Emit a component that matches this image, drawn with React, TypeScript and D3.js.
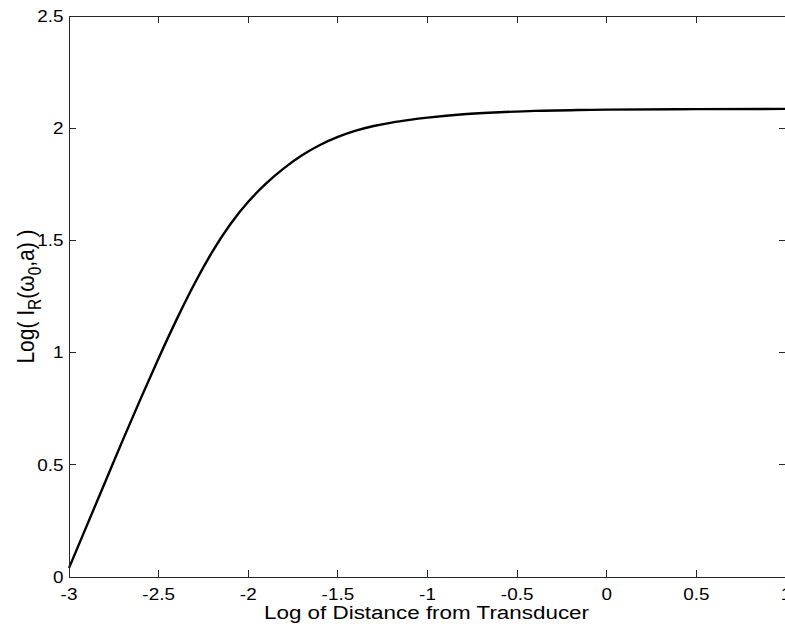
import React from "react";
import * as d3 from "d3";

const xValues = [-3, -2.9, -2.8, -2.7, -2.6, -2.5, -2.4, -2.3, -2.2, -2.1, -2.0, -1.9, -1.8, -1.7, -1.6, -1.5, -1.4, -1.3, -1.2, -1.1, -1.0, -0.8, -0.6, -0.4, -0.2, 0, 0.5, 1];
const yValues = [0.04, 0.23, 0.42, 0.61, 0.795, 0.975, 1.147, 1.307, 1.45, 1.572, 1.672, 1.754, 1.822, 1.879, 1.925, 1.961, 1.989, 2.01, 2.025, 2.037, 2.047, 2.062, 2.071, 2.077, 2.08, 2.083, 2.085, 2.086];
const xTicks = [-3, -2.5, -2, -1.5, -1, -0.5, 0, 0.5, 1];
const yTicks = [0, 0.5, 1, 1.5, 2, 2.5];
const xLabel = "Log of Distance from Transducer";

const W = 785;
const H = 630;
const L = 69;
const R = 786;
const T = 16;
const B = 577;
const FONT = "Arial, 'Liberation Sans', Helvetica, sans-serif";
const AX = "#262626";
const SX = 1.18;

export default function App() {
  const x = d3.scaleLinear().domain([-3, 1]).range([L, R]);
  const y = d3.scaleLinear().domain([0, 2.5]).range([B, T]);
  const pts = xValues.map((v, i) => [v, yValues[i]] as [number, number]);
  const line = d3
    .line<[number, number]>()
    .x((d) => x(d[0]))
    .y((d) => y(d[1]))
    .curve(d3.curveNatural);
  const tl = 7;
  const fmt = (v: number) => String(v);
  return (
    <svg
      width={W}
      height={H}
      style={{ position: "absolute", left: 0, top: 0, background: "#fff" }}
      fontFamily={FONT}
    >
      <rect x={0} y={0} width={W} height={H} fill="#fff" />
      <path d={line(pts) || ""} fill="none" stroke="#000" strokeWidth={2.4} />
      <rect x={L} y={T} width={R - L} height={B - T} fill="none" stroke={AX} strokeWidth={1} shapeRendering="crispEdges" />
      {xTicks.map((t) => (
        <g key={"x" + t}>
          <line x1={x(t)} x2={x(t)} y1={B} y2={B - tl} stroke={AX} shapeRendering="crispEdges" />
          <line x1={x(t)} x2={x(t)} y1={T} y2={T + tl} stroke={AX} shapeRendering="crispEdges" />
          <text transform={`translate(${x(t)},599.5) scale(${SX},1)`} fontSize={16} textAnchor="middle" fill="#000">
            {fmt(t)}
          </text>
        </g>
      ))}
      {yTicks.map((t) => (
        <g key={"y" + t}>
          <line x1={L} x2={L + tl} y1={y(t)} y2={y(t)} stroke={AX} shapeRendering="crispEdges" />
          <line x1={R} x2={R - tl} y1={y(t)} y2={y(t)} stroke={AX} shapeRendering="crispEdges" />
          <text transform={`translate(63.5,${y(t) + 5.8}) scale(${SX},1)`} fontSize={16} textAnchor="end" fill="#000">
            {fmt(t)}
          </text>
        </g>
      ))}
      <text transform={`translate(${(L + R) / 2 - 1},619.3) scale(${SX},1)`} fontSize={19} textAnchor="middle" fill="#000">
        {xLabel}
      </text>
      <text
        transform={`translate(34,${(T + B) / 2}) scale(${SX},1) rotate(-90)`}
        fontSize={21}
        textAnchor="middle"
        fill="#000"
      >
        <tspan>Log( I</tspan>
        <tspan fontSize={15.5} dy={6}>R</tspan>
        <tspan dy={-6}>(ω</tspan>
        <tspan fontSize={15.5} dy={6}>0</tspan>
        <tspan dy={-6}>,a) )</tspan>
      </text>
    </svg>
  );
}
